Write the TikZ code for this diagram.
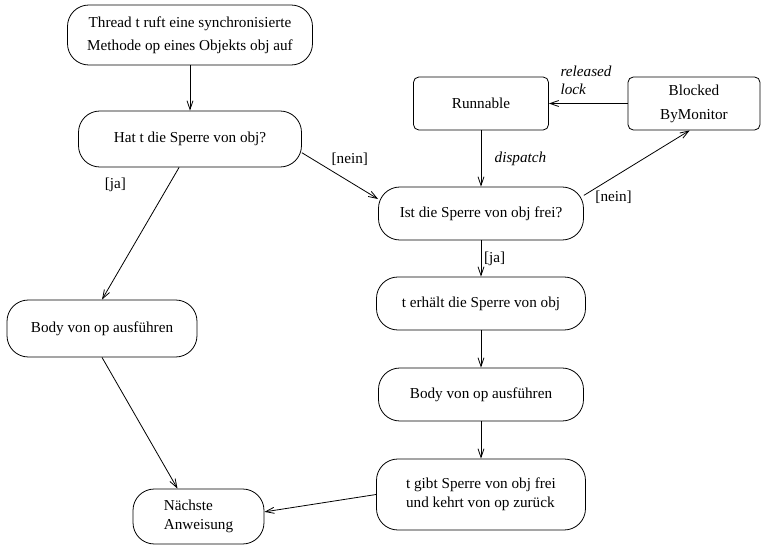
\documentclass[tikz,border=0pt]{standalone}
\usepackage{fontspec}
\setmainfont{Liberation Serif}
\usetikzlibrary{arrows.meta}

\begin{document}
\begin{tikzpicture}[x=0.75pt, y=-0.75pt, line width=0.6pt, >={Straight Barb[length=6.5pt, width=4.5pt]}]
	\tikzstyle{every node}=[inner sep=2pt, font=\fontsize{11.4}{14}\selectfont]
	\tikzstyle{act}=[draw, rounded corners=16pt, minimum height=39.75pt, align=center]
	\tikzstyle{state}=[draw, rounded corners=4pt, minimum height=39.75pt, align=center]
	\tikzstyle{emph}=[font=\fontsize{11.4}{14}\selectfont\itshape]
	\useasboundingbox (0,0) rectangle (761,545);
	% linke Spalte
	\node[act, minimum width=183.75pt, minimum height=45pt] (T) at (190, 35) {Thread t ruft eine synchronisierte\\[3pt] Methode op eines Objekts obj auf};
	\node[act, minimum width=167.25pt, minimum height=42pt] (H) at (190, 139) {Hat t die Sperre von obj?};
	\node[act, minimum width=142.5pt, minimum height=42.75pt] (BL) at (102, 328.5) {Body von op ausführen};
	\node[act, minimum width=98.25pt, minimum height=41.25pt, align=left] (N) at (198.5, 516.5) {Nächste\\Anweisung};
	% rechte Spalte
	\node[state, minimum width=101.25pt] (R) at (481, 103.5) {Runnable};
	\node[state, minimum width=99pt] (B) at (694, 103.5) {Blocked\\[4pt]ByMonitor};
	\node[act, minimum width=153.75pt] (F) at (481, 213.5) {Ist die Sperre von obj frei?};
	\node[act, minimum width=156.75pt] (E) at (481, 303.5) {t erhält die Sperre von obj};
	\node[act, minimum width=153.75pt] (BR) at (481, 394.5) {Body von op ausführen};
	\node[act, minimum width=156.75pt, minimum height=53.25pt, align=left] (G) at (481, 494.5) {t gibt Sperre von obj frei\\und kehrt von op zurück};
	% Kanten
	\draw[->] (T) -- (H);
	\draw[->] (H.-7) -- (F.172) node[pos=0.35, above right] {[nein]};
	\draw[->] (H.-111) -- (BL.north) node[pos=0.13, left=30pt] {[ja]};
	\draw[->] (BL.south) -- (N.127);
	\draw[->] (R) -- (F) node[midway, right=8pt, emph] {dispatch};
	\draw[->] (F.10) -- (B.-99) node[pos=0.08, right, yshift=-5pt] {[nein]};
	\draw[->] (B) -- (R) node[pos=0.89, above right, yshift=4pt, align=left, emph] {released\\lock};
	\draw[->] (F) -- (E) node[midway, right] {[ja]};
	\draw[->] (E) -- (BR);
	\draw[->] (BR) -- (G);
	\draw[->] (G.west) -- (N.4);
\end{tikzpicture}
\end{document}
